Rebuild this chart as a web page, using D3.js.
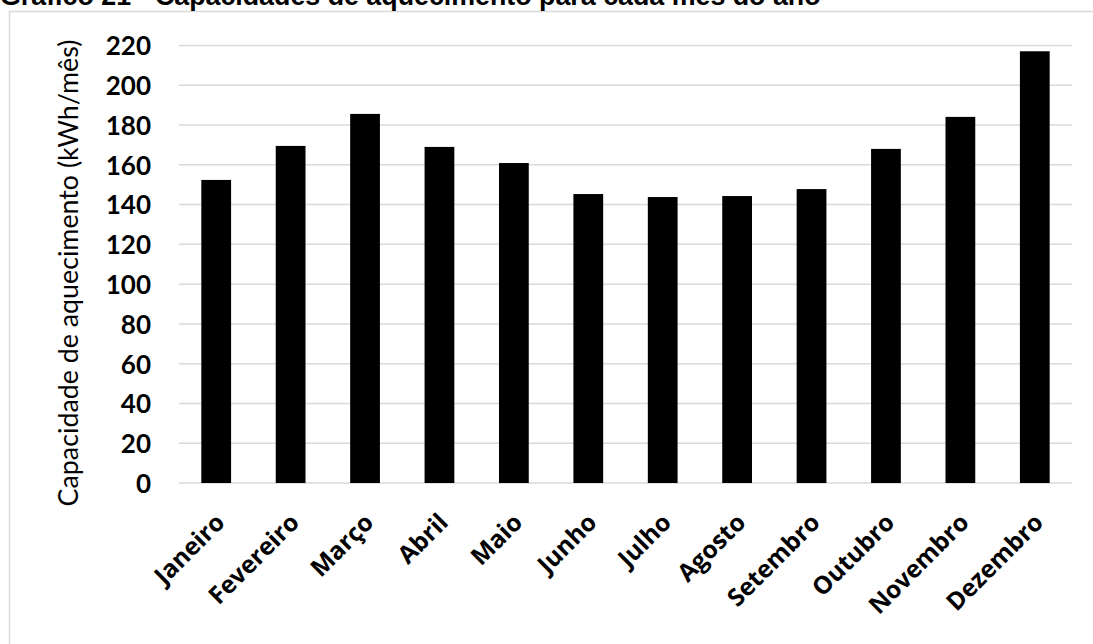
<!DOCTYPE html>
<html>
<head>
<meta charset="utf-8">
<script src="https://cdn.jsdelivr.net/npm/d3@7"></script>
<style>
  html, body { margin: 0; padding: 0; background: #fff; }
  svg { display: block; }
</style>
</head>
<body>
<svg id="chart" width="1093" height="644"></svg>
<script>
const months = ["Janeiro","Fevereiro","Março","Abril","Maio","Junho","Julho","Agosto","Setembro","Outubro","Novembro","Dezembro"];
const capacity = [152.4, 169.5, 185.6, 169.0, 160.9, 145.3, 143.8, 144.3, 147.8, 168.0, 184.1, 217.1];
const yTicks = [0, 20, 40, 60, 80, 100, 120, 140, 160, 180, 200, 220];
const titleText = "Gráfico 21 - Capacidades de aquecimento para cada mês do ano";
const yAxisTitle = "Capacidade de aquecimento (kWh/mês)";

(function () {
const svg = d3.select("#chart");

// chart frame (extends past the picture on right and bottom)
svg.append("rect")
  .attr("x", 9.5).attr("y", 11.5)
  .attr("width", 1200).attr("height", 800)
  .attr("fill", "#fff").attr("stroke", "#d9d9d9").attr("stroke-width", 1.5);

// clipped document caption above the chart
svg.append("text")
  .attr("x", 0).attr("y", 5)
  .attr("font-family", "'Liberation Sans', Arial, sans-serif")
  .attr("font-weight", "bold")
  .attr("font-size", 26.8)
  .attr("fill", "#000")
  .text(titleText);

const pLeft = 179, pRight = 1072, pTop = 45.5, pBottom = 483;

const x = d3.scaleBand().domain(months).range([pLeft, pRight]).paddingInner(0.6).paddingOuter(0.3);
const y = d3.scaleLinear().domain([0, 220]).range([pBottom, pTop]);

// gridlines
svg.append("g").selectAll("line").data(yTicks).join("line")
  .attr("x1", pLeft).attr("x2", pRight)
  .attr("y1", d => y(d)).attr("y2", d => y(d))
  .attr("stroke", "#d9d9d9").attr("stroke-width", 1.5);

// bars
svg.append("g").selectAll("rect").data(capacity).join("rect")
  .attr("x", (d, i) => x(months[i]))
  .attr("width", x.bandwidth())
  .attr("y", d => y(d))
  .attr("height", d => y(0) - y(d))
  .attr("fill", "#000");

// y axis tick labels
const yAxis = d3.axisLeft(y).tickValues(yTicks).tickSize(0).tickPadding(0);
const gy = svg.append("g").attr("transform", `translate(151,0)`).call(yAxis);
gy.select(".domain").remove();
gy.selectAll("text")
  .attr("font-family", "Lato, 'Open Sans', sans-serif")
  .attr("font-weight", "bold")
  .attr("font-size", 26)
  .attr("fill", "#000")
  .attr("dy", "0.36em");

// x axis labels
const xAxis = d3.axisBottom(x).tickSize(0).tickPadding(0);
const gx = svg.append("g").attr("transform", `translate(0,${pBottom})`).call(xAxis);
gx.select(".domain").remove();
gx.selectAll(".tick text")
  .attr("font-family", "'Open Sans', Lato, sans-serif")
  .attr("font-weight", "bold")
  .attr("font-size", 24.5)
  .attr("fill", "#000")
  .attr("text-anchor", "end")
  .attr("dy", 0)
  .attr("y", 0)
  .attr("transform", "translate(10,41) rotate(-45)");

// y axis title
svg.append("text")
  .attr("transform", "translate(78,273) rotate(-90)")
  .attr("text-anchor", "middle")
  .attr("font-family", "Lato, 'Open Sans', sans-serif")
  .attr("font-size", 26.8)
  .attr("fill", "#000")
  .text(yAxisTitle);
})();
</script>
</body>
</html>
